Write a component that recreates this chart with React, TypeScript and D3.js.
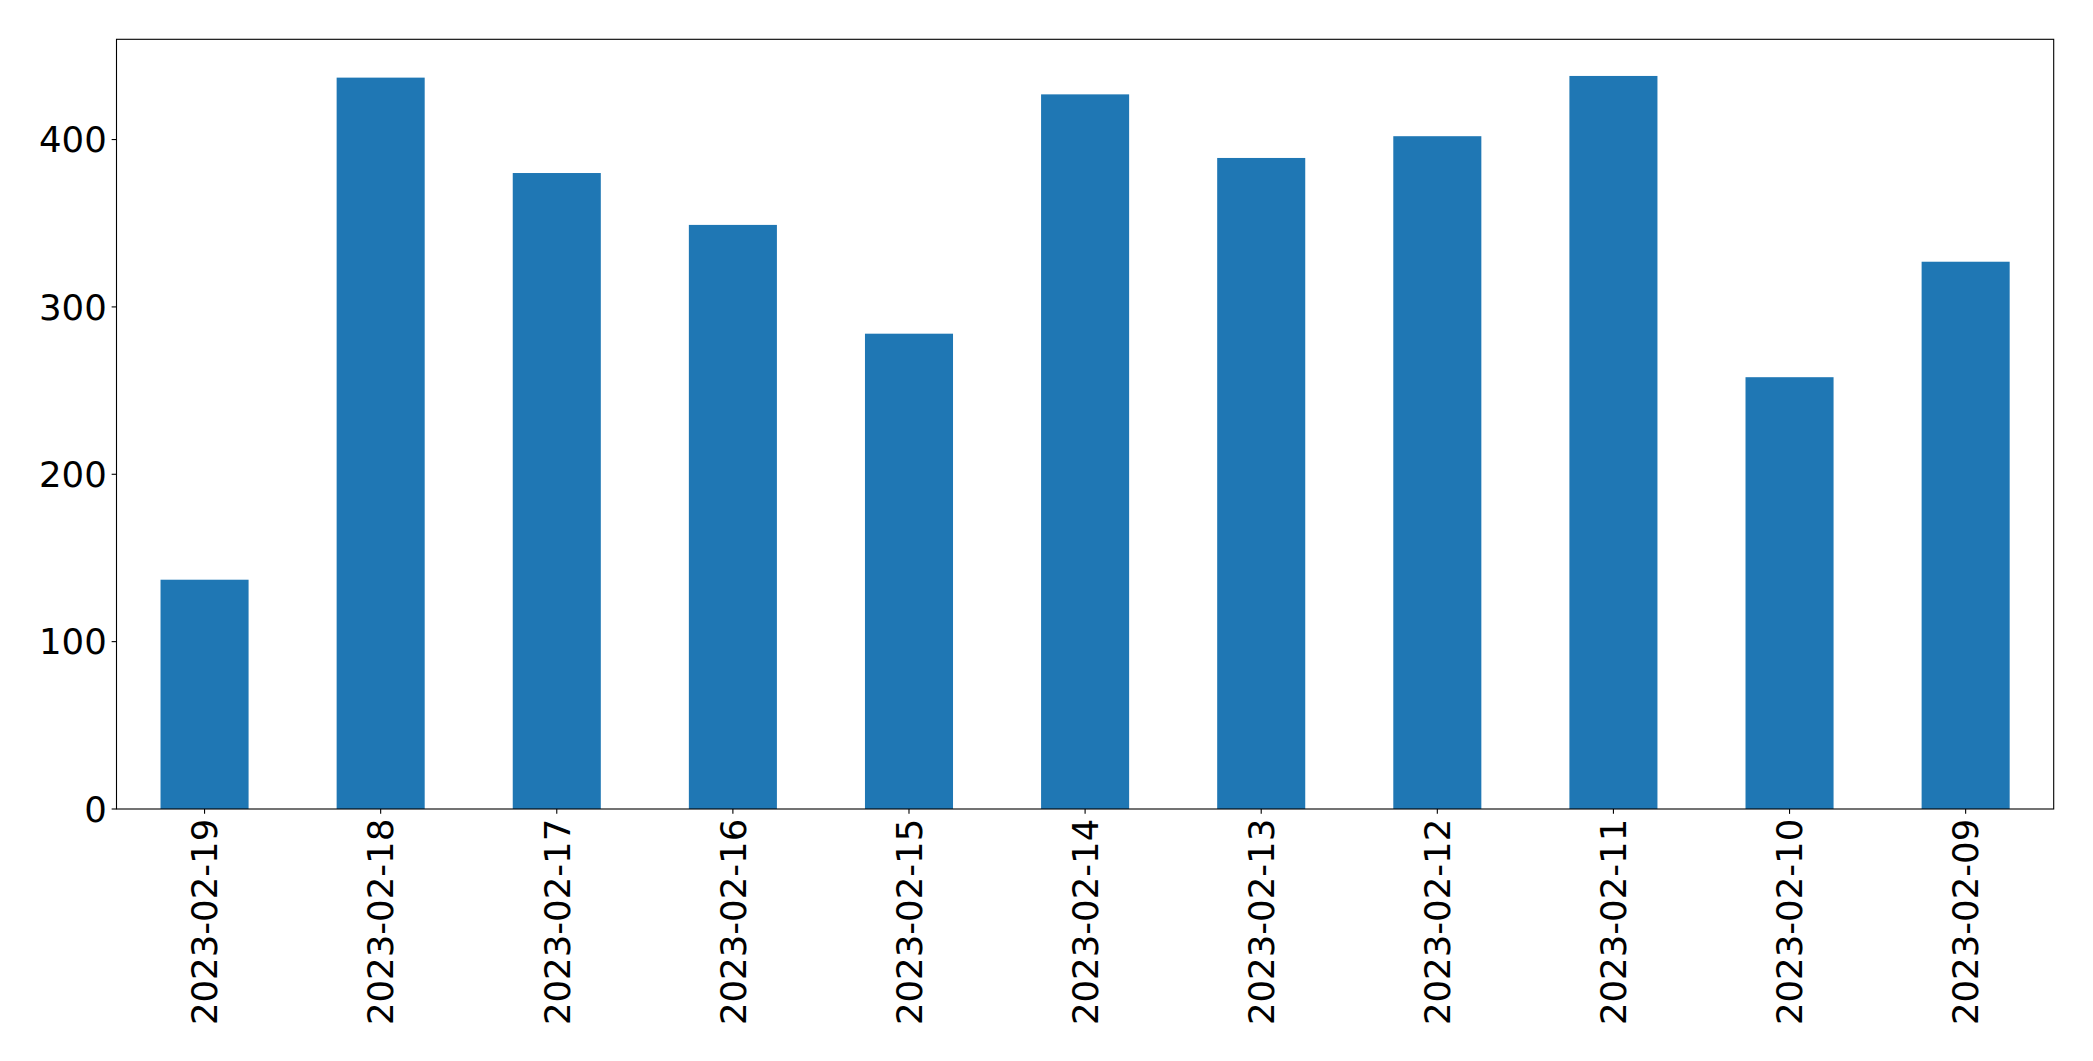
import React from "react";
import * as d3 from "d3";

const categories = [
  "2023-02-19", "2023-02-18", "2023-02-17", "2023-02-16", "2023-02-15", "2023-02-14",
  "2023-02-13", "2023-02-12", "2023-02-11", "2023-02-10", "2023-02-09",
];
const values = [137, 437, 380, 349, 284, 427, 389, 402, 438, 258, 327];
const yTicks = [0, 100, 200, 300, 400];

const W = 2093;
const H = 1061;
const left = 116.5;
const right = 2053.7;
const top = 39.3;
const bottom = 809;
const FONT = "'DejaVu Sans', sans-serif";
const FS = 35.5;
const TICK = 4.86;

export default function App() {
  const x = d3.scaleBand<string>().domain(categories).range([left, right]).paddingInner(0.5).paddingOuter(0.25);
  const yMax = d3.max(values)! * 1.05;
  const y = d3.scaleLinear().domain([0, yMax]).range([bottom, top]);

  return (
    <svg width={W} height={H} style={{ position: "absolute", left: 0, top: 0, background: "#fff" }}>
      <rect x={0} y={0} width={W} height={H} fill="#fff" />
      {categories.map((c, i) => (
        <rect key={c} x={x(c)!} y={y(values[i])} width={x.bandwidth()} height={y(0) - y(values[i])} fill="#1f77b4" />
      ))}
      <rect x={left} y={top} width={right - left} height={bottom - top} fill="none" stroke="#000" strokeWidth={1.1} />
      {yTicks.map((t) => (
        <g key={t}>
          <line x1={left - TICK} x2={left} y1={y(t)} y2={y(t)} stroke="#000" strokeWidth={1.1} />
          <text x={left - TICK - 4.9} y={y(t)} dy="0.36em" textAnchor="end" fontFamily={FONT} fontSize={FS} fill="#000">
            {t}
          </text>
        </g>
      ))}
      {categories.map((c) => {
        const cx = x(c)! + x.bandwidth() / 2;
        const ty = bottom + TICK + 4.9;
        return (
          <g key={c}>
            <line x1={cx} x2={cx} y1={bottom} y2={bottom + TICK} stroke="#000" strokeWidth={1.1} />
            <text
              transform={`translate(${cx},${ty}) rotate(-90)`}
              dy="0.36em"
              textAnchor="end"
              fontFamily={FONT}
              fontSize={FS}
              fill="#000"
            >
              {c}
            </text>
          </g>
        );
      })}
    </svg>
  );
}
